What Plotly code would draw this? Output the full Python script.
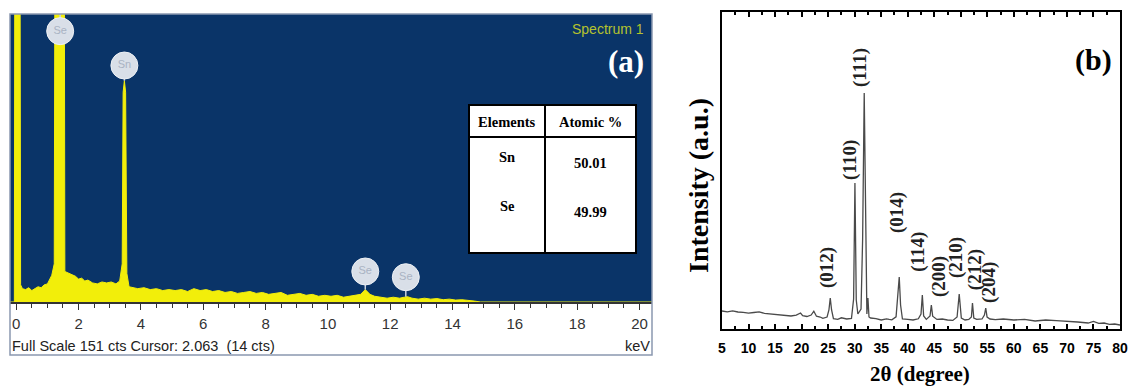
import plotly.graph_objects as go

W, H = 1129, 387

# ---------------- (a) EDS spectrum data ----------------
eds_energy = [-0.25, -0.06, -0.03, 0.03, 0.1, 0.14, 0.2, 0.3, 0.4, 0.5, 0.6, 0.7, 0.8, 0.9, 1.0, 1.08, 1.14,
              1.22, 1.27, 1.41, 1.52, 1.56, 1.7, 1.8, 1.9, 2.0, 2.1, 2.2, 2.3, 2.45, 2.6, 2.75, 2.9, 3.05, 3.2,
              3.32, 3.4, 3.43, 3.47, 3.51, 3.55, 3.62, 3.75, 3.9, 4.1, 4.3, 4.5, 4.7, 4.9, 5.1, 5.3, 5.5,
              5.7, 5.9, 6.1, 6.3, 6.5, 6.7, 6.9, 7.1, 7.3, 7.5, 7.7, 7.9, 8.1, 8.3, 8.5, 8.7, 8.9, 9.1, 9.3,
              9.5, 9.7, 9.9, 10.1, 10.3, 10.5, 10.7, 10.9, 11.05, 11.2, 11.35, 11.5, 11.7, 11.9, 12.1, 12.3,
              12.45, 12.55, 12.7, 12.9, 13.1, 13.3, 13.5, 13.7, 13.9, 14.1, 14.3, 14.5, 14.7, 14.9, 20.5]
eds_counts = [0, 0, 400, 400, 400, 9, 7, 6.5, 7.5, 6, 7, 8, 7.5, 9, 9.5, 12, 14,
              20, 400, 400, 400, 16, 15, 14, 13.5, 12, 12.5, 11, 11.5, 10, 9.5, 10.5, 10, 10.5, 9.5,
              11, 20, 110, 116, 110, 15, 8, 7.5, 7, 7.5, 6.5, 7, 6, 6.5, 6, 6.5, 5.5,
              7, 6, 6.5, 5.5, 6, 5, 5.5, 4.5, 5, 5.5, 4.5, 5, 4, 4.5, 5, 3.5, 4, 4.5, 3.5,
              4, 3, 3.5, 3, 3.5, 2.5, 3, 3.5, 4, 6.5, 4, 3, 2.5, 2, 2.5, 2,
              2.5, 2.8, 2, 1.5, 2, 1.5, 1.8, 1.2, 1.5, 1.0, 1.2, 1.0, 0.5, 0, 0]

marker_labels = ["Se", "Sn", "Se", "Se"]
marker_energy = [1.41, 3.47, 11.2, 12.5]
marker_level = [142, 124, 16, 13]
peak_level = [151, 116, 6.5, 2.8]

table_header = ["Elements", "Atomic %"]
table_elements = ["Sn", "Se"]
table_atomic = ["50.01", "49.99"]

# ---------------- (b) XRD pattern data ----------------
xrd_2theta = [5, 6, 7, 8, 9, 10, 11, 12, 13, 14, 15, 16, 17, 18, 19, 19.8, 20.2, 21, 21.8, 22.3, 22.8,
              23.5, 24, 24.8, 25.15, 25.4, 25.65, 26, 26.8, 27.5, 28.5, 29.4, 29.8, 30.05, 30.3, 30.6,
              31.2, 31.5, 31.8, 32.1, 32.3, 32.5, 32.7, 33, 34, 35, 36, 36.5, 37, 37.8, 38.15, 38.4,
              38.65, 39, 40, 41, 42, 42.5, 42.75, 43, 43.5, 44.2, 44.45, 44.7, 45.5, 46.5, 47.5, 48.5,
              49.3, 49.7, 50.1, 50.8, 51.5, 52.0, 52.2, 52.45, 53, 54, 54.45, 54.7, 54.95, 55.5, 56.5,
              58, 60, 62, 64, 66, 68, 70, 72, 74, 75, 76, 77, 78, 79, 80]
xrd_intensity = [180, 172, 182, 170, 166, 158, 165, 172, 156, 150, 148, 142, 136, 130, 138, 160, 134,
                 125, 140, 178, 128, 120, 106, 120, 190, 310, 190, 104, 96, 112, 100, 106, 300, 1460,
                 290, 150, 200, 900, 2360, 680, 150, 310, 120, 110, 104, 90, 102, 96, 92, 122, 340,
                 520, 240, 100, 96, 90, 102, 150, 340, 130, 96, 130, 240, 128, 96, 100, 90, 86,
                 120, 350, 110, 90, 96, 120, 260, 110, 96, 100, 140, 210, 120, 100, 94,
                 100, 90, 96, 80, 90, 84, 80, 70, 60, 76, 56, 60, 46, 50, 40]

hkl_labels = ["(012)", "(110)", "(111)", "(014)", "(114)", "(200)", "(210)", "(212)", "(204)"]
hkl_2theta = [24.8, 29.1, 31.0, 38.0, 41.9, 45.9, 49.1, 52.7, 55.3]
hkl_level = [610, 1690, 2620, 1160, 770, 520, 710, 590, 470]
xrd_ticks = list(range(5, 81, 5))

# ---------------- figure ----------------
def px(x):
    return x / W

def py(y):
    return 1 - y / H

BLUE = "#0a3468"
YELLOW = "#f2ee0a"

fig = go.Figure()

# EDS filled spectrum
fig.add_trace(go.Scatter(x=eds_energy, y=eds_counts, mode="lines", fill="tozeroy",
                         line=dict(color=YELLOW, width=1), fillcolor=YELLOW,
                         xaxis="x", yaxis="y", hoverinfo="skip", showlegend=False))

# stems of element markers
for e, m, p in zip(marker_energy, marker_level, peak_level):
    fig.add_trace(go.Scatter(x=[e, e], y=[m, p], mode="lines",
                             line=dict(color="#c9d2df", width=1.5),
                             xaxis="x", yaxis="y", hoverinfo="skip", showlegend=False))

# element markers
fig.add_trace(go.Scatter(x=marker_energy, y=marker_level, mode="markers+text",
                         text=marker_labels, textposition="middle center",
                         textfont=dict(family="Arial", size=11, color="#a9b3c3"),
                         marker=dict(symbol="circle", size=27, color="#d9dfe8",
                                     line=dict(color="#eef1f5", width=1)),
                         xaxis="x", yaxis="y", hoverinfo="skip", showlegend=False))

# XRD line
fig.add_trace(go.Scatter(x=xrd_2theta, y=xrd_intensity, mode="lines",
                         line=dict(color="#4a4a4a", width=1.3),
                         xaxis="x2", yaxis="y2", hoverinfo="skip", showlegend=False))

shapes = []
annotations = []


def note(x, y, text, font, xanchor="center", yanchor="middle", **kw):
    annotations.append(dict(xref="paper", yref="paper", x=px(x), y=py(y), text=text,
                            showarrow=False, font=font, xanchor=xanchor, yanchor=yanchor, **kw))


# outer box of panel (a)
shapes.append(dict(type="rect", xref="paper", yref="paper",
                   x0=px(10), x1=px(652), y0=py(355), y1=py(14),
                   line=dict(color="#8a98b0", width=1.5), layer="above"))

# table in panel (a)
tx0, tx1, txm = 469, 636, 545
ty0, ty1, tym = 105, 253, 137
shapes.append(dict(type="rect", xref="paper", yref="paper",
                   x0=px(tx0), x1=px(tx1), y0=py(ty1), y1=py(ty0),
                   fillcolor="white", line=dict(color="black", width=2), layer="above"))
shapes.append(dict(type="line", xref="paper", yref="paper",
                   x0=px(txm), x1=px(txm), y0=py(ty1), y1=py(ty0),
                   line=dict(color="black", width=2), layer="above"))
shapes.append(dict(type="line", xref="paper", yref="paper",
                   x0=px(tx0), x1=px(tx1), y0=py(tym), y1=py(tym),
                   line=dict(color="black", width=2), layer="above"))

tfont = dict(family="Liberation Serif", size=14.5, color="black")
note(507, 122, "<b>%s</b>" % table_header[0], tfont)
note(590, 122, "<b>%s</b>" % table_header[1], tfont)
for i, (el, at) in enumerate(zip(table_elements, table_atomic)):
    yy = 160 + i * 49
    note(507, yy - 3, "<b>%s</b>" % el, tfont)
    note(590, yy + 3, "<b>%s</b>" % at, tfont)

note(646, 29, "Spectrum 1", dict(family="Arial", size=14, color="#b5c22e"), xanchor="right")
note(646, 61, "<b>(a)</b>", dict(family="Liberation Serif", size=31, color="white"), xanchor="right")
note(10, 346, "Full Scale 151 cts Cursor: 2.063  (14 cts)",
     dict(family="Arial", size=14.5, color="#222"), xanchor="left")
note(652, 346, "keV", dict(family="Arial", size=14.5, color="#222"), xanchor="right")

# panel (b) annotations
for lab, t, lv in zip(hkl_labels, hkl_2theta, hkl_level):
    annotations.append(dict(xref="x2", yref="y2", x=t, y=lv, text="<b>%s</b>" % lab,
                            textangle=-90, showarrow=False, xanchor="center", yanchor="middle",
                            font=dict(family="Liberation Serif", size=19, color="#222")))
note(1093, 60, "<b>(b)</b>", dict(family="Liberation Serif", size=30, color="black"))
note(920, 374, "<b>2θ (degree)</b>", dict(family="Liberation Serif", size=21, color="black"))
note(698, 186, "<b>Intensity (a.u.)</b>", dict(family="Liberation Serif", size=28, color="black"),
     textangle=-90)

fig.update_layout(
    width=W, height=H, margin=dict(l=0, r=0, t=0, b=0, autoexpand=False),
    paper_bgcolor="white", plot_bgcolor="white",
    shapes=shapes, annotations=annotations, showlegend=False,
    xaxis=dict(domain=[px(10), px(652)], anchor="y", range=[-0.2, 20.4], automargin=False,
               tickmode="array", tickvals=list(range(0, 21, 2)),
               ticks="outside", ticklen=6, tickwidth=1, tickcolor="#333",
               minor=dict(dtick=0.5, ticks="outside", ticklen=4, tickcolor="#333"),
               showline=True, linecolor="#333", linewidth=1.5, showgrid=False, zeroline=False,
               tickfont=dict(family="Arial", size=15, color="#333"), ticklabelstandoff=1,
               ticklabeloverflow="allow"),
    yaxis=dict(domain=[py(302), py(14)], anchor="x", range=[0, 151], automargin=False,
               showticklabels=False, ticks="", showgrid=False, zeroline=False, showline=False),
    xaxis2=dict(domain=[px(722), px(1120)], anchor="y2", range=[5, 80], automargin=False,
                tickmode="array", tickvals=xrd_ticks,
                ticks="inside", ticklen=5, tickwidth=1.5, tickcolor="black",
                minor=dict(dtick=2.5, ticks="inside", ticklen=3, tickcolor="black"),
                showline=True, mirror="ticks", linecolor="black", linewidth=2,
                showgrid=False, zeroline=False, ticklabeloverflow="allow",
                tickfont=dict(family="Liberation Sans", size=14, color="black", weight="bold"),
                ticklabelstandoff=5),
    yaxis2=dict(domain=[py(329), py(12)], anchor="x2", range=[0, 3170], automargin=False,
                showticklabels=False, ticks="", showgrid=False, zeroline=False,
                showline=True, mirror=True, linecolor="black", linewidth=2),
)

# blue plot background for EDS
fig.add_shape(type="rect", xref="paper", yref="paper", x0=px(10), x1=px(652), y0=py(302), y1=py(14),
              fillcolor=BLUE, line=dict(width=0), layer="below")

fig.write_html("out.html")
